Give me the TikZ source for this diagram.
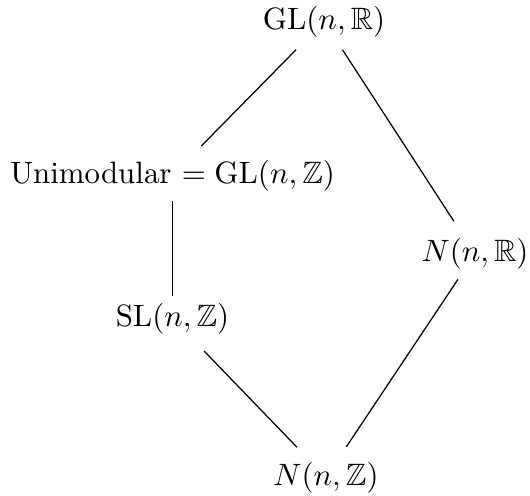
\documentclass[tikz,border=0pt]{standalone}
\usepackage{amssymb}
\begin{document}
\begin{tikzpicture}[x=0.3236pt,y=-0.3236pt,
  grp/.style={inner sep=0pt},
  link/.style={draw=black, line width=0.4pt}]
\useasboundingbox (0,0) rectangle (530,495);
\node[grp] (gl)  at (324,21.3) {$\mathrm{GL}(n,\mathbb{R})$};
\node[grp] (uni) at (172.5,175.3) {Unimodular $=\mathrm{GL}(n,\mathbb{Z})$};
\node[grp] (nr)  at (475,253.8) {$N(n,\mathbb{R})$};
\node[grp] (sl)  at (172.5,318.3) {$\mathrm{SL}(n,\mathbb{Z})$};
\node[grp] (nz)  at (326,477.3) {$N(n,\mathbb{Z})$};
\draw[link, shorten <=5.6pt, shorten >=6.0pt] (gl) -- (uni);
\draw[link, shorten <=4.8pt, shorten >=6.4pt] (gl) -- (nr);
\draw[link, shorten <=3.0pt, shorten >=2.0pt] (uni) -- (sl);
\draw[link, shorten <=7.5pt, shorten >=6.3pt] (sl) -- (nz);
\draw[link, shorten <=3.7pt, shorten >=5.6pt] (nr) -- (nz);
\end{tikzpicture}
\end{document}
